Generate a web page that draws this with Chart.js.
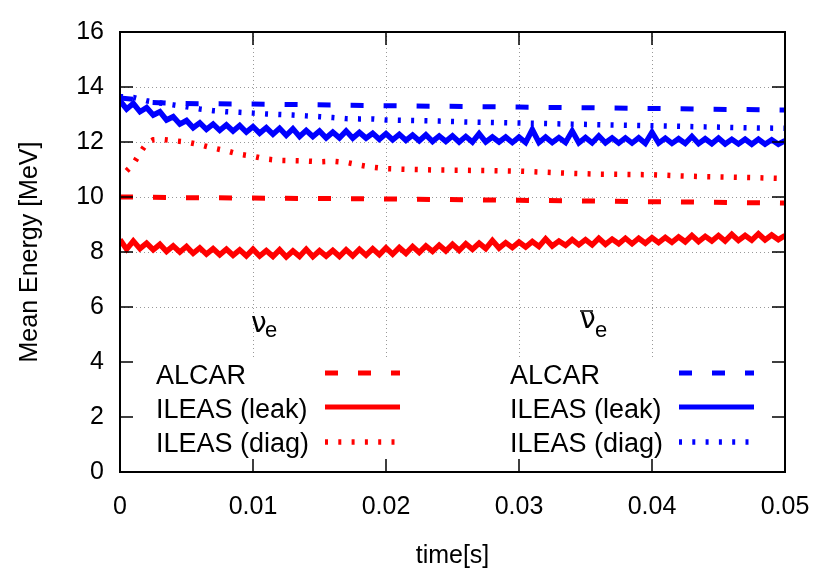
<!DOCTYPE html>
<html>
<head>
<meta charset="utf-8">
<script src="https://cdn.jsdelivr.net/npm/chart.js@4.4.0/dist/chart.umd.min.js"></script>
<style>
html,body{margin:0;padding:0;background:#fff;}
#wrap{width:830px;height:581px;position:relative;}
</style>
</head>
<body>
<div id="wrap"><canvas id="c"></canvas></div>
<script>
// ---------- data ----------
const xTickLabels = ['0','0.01','0.02','0.03','0.04','0.05'];
const yTickValues = [0,2,4,6,8,10,12,14,16];
const xTickValues = [0,0.01,0.02,0.03,0.04,0.05];

const tFine = [0,0.0005,0.001,0.0015,0.002,0.0025,0.003,0.0035,0.004,0.0045,0.005,0.0055,0.006,0.0065,0.007,0.0075,0.008,0.0085,0.009,0.0095,0.01,0.0105,0.011,0.0115,0.012,0.0125,0.013,0.0135,0.014,0.0145,0.015,0.0155,0.016,0.0165,0.017,0.0175,0.018,0.0185,0.019,0.0195,0.02,0.0205,0.021,0.0215,0.022,0.0225,0.023,0.0235,0.024,0.0245,0.025,0.0255,0.026,0.0265,0.027,0.0275,0.028,0.0285,0.029,0.0295,0.03,0.0305,0.031,0.0315,0.032,0.0325,0.033,0.0335,0.034,0.0345,0.035,0.0355,0.036,0.0365,0.037,0.0375,0.038,0.0385,0.039,0.0395,0.04,0.0405,0.041,0.0415,0.042,0.0425,0.043,0.0435,0.044,0.0445,0.045,0.0455,0.046,0.0465,0.047,0.0475,0.048,0.0485,0.049,0.0495,0.05];

const nueLeak = [8.45,8.1,8.4,8.12,8.32,8.08,8.28,8.02,8.22,8.0, 8.2,7.95,8.15,7.92,8.12,7.9,8.1,7.88,8.08,7.86, 8.1,7.85,8.05,7.84,8.08,7.82,8.04,7.84,8.1,7.83, 8.05,7.85,8.06,7.84,8.08,7.86,8.1,7.88,8.12,7.9, 8.15,7.92,8.16,7.95,8.2,7.98,8.22,8.02,8.25,8.04, 8.28,8.06,8.3,8.1,8.32,8.12,8.42,8.14,8.34,8.16, 8.36,8.18,8.38,8.2,8.48,8.22,8.4,8.24,8.45,8.26, 8.45,8.26,8.5,8.28,8.47,8.3,8.5,8.3,8.5,8.32, 8.52,8.34,8.53,8.35,8.55,8.37,8.6,8.38,8.57,8.4, 8.6,8.4,8.64,8.42,8.6,8.43,8.66,8.44,8.62,8.45, 8.6];

const nuebLeak = [13.5,13.2,13.4,13.1,13.25,12.98,13.1,12.8,12.92,12.65, 12.78,12.52,12.7,12.46,12.65,12.42,12.62,12.4,12.6,12.36, 12.56,12.32,12.52,12.28,12.5,12.24,12.48,12.2,12.42,12.2, 12.4,12.15,12.36,12.15,12.4,12.14,12.35,12.14,12.32,12.1, 12.3,12.08,12.28,12.06,12.25,12.04,12.26,12.02,12.22,12.02, 12.22,12.0,12.2,12.0,12.3,12.0,12.18,12.0,12.18,11.98, 12.18,11.98,12.45,11.98,12.18,11.98,12.16,11.98,12.4,11.97, 12.16,11.97,12.22,11.97,12.15,11.96,12.15,11.96,12.15,11.95, 12.35,11.96,12.14,11.95,12.12,11.95,12.2,11.94,12.12,11.94, 12.14,11.93,12.1,11.93,12.1,11.92,12.1,11.92,12.08,11.92, 12.05];

const tAlcar = [0,0.001,0.002,0.004,0.01,0.02,0.03,0.04,0.05];
const nueAlcar = [10.0,10.0,9.99,9.98,9.96,9.93,9.88,9.83,9.78];
const nuebAlcar = [13.6,13.55,13.45,13.4,13.38,13.32,13.27,13.22,13.16];

const tDiagNueb = [0,0.001,0.002,0.003,0.004,0.005,0.006,0.007,0.008,0.009,0.01,0.011,0.012,0.013,0.014,0.015,0.016,0.017,0.018,0.019,0.02,0.022,0.024,0.026,0.028,0.03,0.032,0.034,0.036,0.038,0.04,0.042,0.044,0.046,0.048,0.05];
const nuebDiag = [13.65,13.62,13.5,13.42,13.35,13.28,13.2,13.14,13.1,13.08,13.05,13.02,13.0,12.98,12.95,12.92,12.89,12.85,12.84,12.84,12.8,12.78,12.76,12.73,12.71,12.69,12.67,12.65,12.63,12.61,12.59,12.57,12.55,12.53,12.51,12.5];

const tDiagNue = [0.0005,0.001,0.0015,0.002,0.0025,0.003,0.004,0.005,0.006,0.007,0.008,0.009,0.01,0.011,0.012,0.013,0.014,0.015,0.016,0.017,0.018,0.019,0.02,0.022,0.024,0.026,0.028,0.03,0.032,0.034,0.036,0.038,0.04,0.042,0.044,0.046,0.048,0.05];
const nueDiag = [10.95,11.2,11.6,11.95,12.08,12.1,12.05,12.0,11.9,11.78,11.68,11.55,11.48,11.38,11.33,11.32,11.31,11.28,11.3,11.26,11.16,11.08,11.03,11.0,10.98,10.97,10.96,10.94,10.9,10.86,10.83,10.82,10.81,10.77,10.74,10.72,10.7,10.67];

const legendLabels = ['ALCAR','ILEAS (leak)','ILEAS (diag)'];

// ---------- styles ----------
const RED = '#ff0000', BLUE = '#0000ff';
const DASH = [13,20], DOT = [3,10.3];
const styles = [
  {dash: DASH, width: 5},
  {dash: [], width: 5.5, legendWidth: 5},
  {dash: DOT, width: 5.5}
];

function pts(t, v){ return t.map((x,i)=>({x:x, y:v[i]})); }
function ds(label, t, v, color, st){
  return {label, data: pts(t,v), borderColor: color, backgroundColor: color,
    borderWidth: st.width, borderDash: st.dash, pointRadius: 0, tension: 0, fill: false,
    borderJoinStyle: 'miter'};
}

const datasets = [
  ds('nue ALCAR', tAlcar, nueAlcar, RED, styles[0]),
  ds('nue ILEAS (leak)', tFine, nueLeak, RED, styles[1]),
  ds('nue ILEAS (diag)', tDiagNue, nueDiag, RED, styles[2]),
  ds('nueb ALCAR', tAlcar, nuebAlcar, BLUE, styles[0]),
  ds('nueb ILEAS (leak)', tFine, nuebLeak, BLUE, styles[1]),
  ds('nueb ILEAS (diag)', tDiagNueb, nuebDiag, BLUE, styles[2])
];

const FONT = '"Liberation Sans", Arial, sans-serif';

const overlay = {
  id: 'overlay',
  afterDraw(chart){
    const {ctx, chartArea: a, scales: {x, y}} = chart;
    ctx.save();
    // opaque key box
    const boxTop = a.top + 325;
    ctx.fillStyle = '#fff';
    ctx.fillRect(a.left + 1, boxTop, a.right - a.left - 2, a.bottom - boxTop - 1);

    // key entries
    const cols = [{tx: a.left + 36, sx: a.left + 205, color: RED},
                  {tx: a.left + 390, sx: a.left + 559, color: BLUE}];
    const rowBase = [a.top + 352, a.top + 386, a.top + 420];
    const rowLine = [a.top + 341, a.top + 375, a.top + 410];
    ctx.font = '27px ' + FONT;
    ctx.textBaseline = 'alphabetic';
    ctx.textAlign = 'left';
    cols.forEach(c => {
      legendLabels.forEach((lab, i) => {
        ctx.fillStyle = '#000';
        ctx.fillText(lab, c.tx, rowBase[i]);
        const st = styles[i];
        ctx.strokeStyle = c.color;
        ctx.lineWidth = st.legendWidth || st.width;
        ctx.lineCap = 'butt';
        ctx.setLineDash(st.dash);
        ctx.beginPath();
        ctx.moveTo(c.sx, rowLine[i]);
        ctx.lineTo(c.sx + 75, rowLine[i]);
        ctx.stroke();
      });
    });
    ctx.setLineDash([]);

    // neutrino labels
    const NU = '28px "DejaVu Sans", sans-serif';
    const SUB = '22px ' + FONT;
    ctx.fillStyle = '#000';
    ctx.font = NU;
    ctx.fillText('ν', a.left + 131, a.top + 300);
    ctx.font = SUB;
    ctx.fillText('e', a.left + 145, a.top + 305);
    ctx.font = NU;
    ctx.fillText('ν', a.left + 460, a.top + 296);
    ctx.font = SUB;
    ctx.fillText('e', a.left + 475, a.top + 305);
    ctx.strokeStyle = '#000';
    ctx.lineWidth = 1.5;
    ctx.beginPath();
    ctx.moveTo(a.left + 460, a.top + 279);
    ctx.lineTo(a.left + 473, a.top + 279);
    ctx.stroke();

    // inward tick marks
    ctx.strokeStyle = '#000';
    ctx.lineWidth = 1.5;
    const TL = 13;
    ctx.beginPath();
    yTickValues.forEach(v => {
      const py = y.getPixelForValue(v);
      ctx.moveTo(a.left, py); ctx.lineTo(a.left + TL, py);
      ctx.moveTo(a.right, py); ctx.lineTo(a.right - TL, py);
    });
    xTickValues.forEach(v => {
      const px = x.getPixelForValue(v);
      ctx.moveTo(px, a.bottom); ctx.lineTo(px, a.bottom - TL);
      ctx.moveTo(px, a.top); ctx.lineTo(px, a.top + TL);
    });
    ctx.stroke();
    // border
    ctx.lineWidth = 2;
    ctx.strokeRect(a.left, a.top, a.right - a.left, a.bottom - a.top);
    ctx.restore();
  }
};

new Chart(document.getElementById('c'), {
  type: 'line',
  data: { datasets },
  plugins: [overlay],
  options: {
    responsive: true,
    maintainAspectRatio: false,
    animation: false,
    layout: { padding: { left: 0, right: 45, top: 32, bottom: 0 } },
    plugins: { legend: { display: false }, tooltip: { enabled: false } },
    scales: {
      x: {
        type: 'linear', min: 0, max: 0.05,
        afterFit(s){ s.height = 109; },
        afterBuildTicks(s){ s.ticks = xTickValues.map(v => ({value: v})); },
        ticks: {
          color: '#000', font: { size: 25, family: FONT }, padding: 20, maxRotation: 0,
          callback: (v, i) => xTickLabels[i]
        },
        grid: { color: '#999999', lineWidth: 1, drawTicks: false },
        border: { display: false, dash: [1,3] },
        title: { display: true, text: 'time[s]', color: '#000',
                 font: { size: 25, family: FONT }, padding: { top: 0, bottom: 10 } }
      },
      y: {
        type: 'linear', min: 0, max: 16,
        afterFit(s){ s.width = 120; },
        afterBuildTicks(s){ s.ticks = yTickValues.map(v => ({value: v})); },
        ticks: { color: '#000', font: { size: 25, family: FONT }, padding: 16 },
        grid: { color: '#999999', lineWidth: 1, drawTicks: false },
        border: { display: false, dash: [1,3] },
        title: { display: true, text: 'Mean Energy [MeV]', color: '#000',
                 font: { size: 25, family: FONT }, padding: { top: 15, bottom: 0 } }
      }
    }
  }
});
</script>
</body>
</html>
